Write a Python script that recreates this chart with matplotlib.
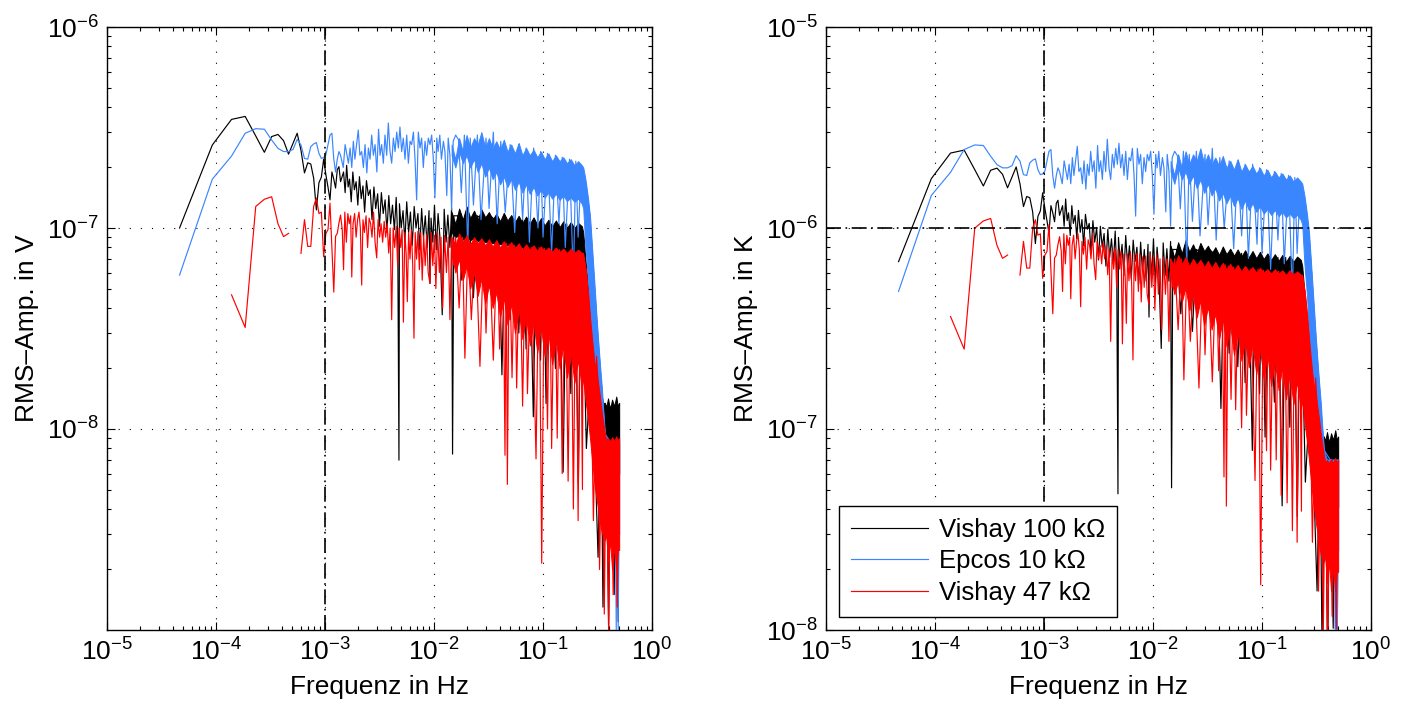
import numpy as np
import matplotlib
matplotlib.use("Agg")
import matplotlib.pyplot as plt
from matplotlib.ticker import LogLocator, NullFormatter, FixedLocator

plt.rcParams['font.family'] = ['Liberation Sans', 'DejaVu Sans']
plt.rcParams['mathtext.fontset'] = 'custom'
plt.rcParams['mathtext.rm'] = 'Liberation Sans'
plt.rcParams['mathtext.it'] = 'Liberation Sans:italic'
plt.rcParams['mathtext.bf'] = 'Liberation Sans:bold'
plt.rcParams['mathtext.default'] = 'regular'

# ---------------- data (left panel, volts) ----------------
DF = 1.0 / 21600.0                       # frequency resolution in Hz
bins_low = list(range(1, 31))            # first FFT bins

black_low = [1.00e-7, 2.59e-7, 3.47e-7, 3.59e-7, 2.87e-7, 2.38e-7, 2.85e-7, 2.92e-7, 2.72e-7, 2.33e-7,
             2.64e-7, 2.96e-7, 2.44e-7, 1.88e-7, 2.11e-7, 2.08e-7, 1.77e-7, 1.23e-7, 1.68e-7, 1.79e-7,
             2.20e-7, 1.84e-7, 1.60e-7, 1.38e-7, 1.90e-7, 1.75e-7, 1.58e-7, 1.95e-7, 2.02e-7, 1.70e-7]
blue_low = [5.83e-8, 1.75e-7, 2.28e-7, 2.96e-7, 3.12e-7, 3.10e-7, 2.74e-7, 2.49e-7, 2.40e-7, 2.40e-7,
            2.46e-7, 2.76e-7, 2.59e-7, 2.22e-7, 2.20e-7, 2.54e-7, 2.62e-7, 2.66e-7, 2.35e-7, 2.22e-7,
            2.24e-7, 2.31e-7, 2.60e-7, 2.90e-7, 2.96e-7, 2.20e-7, 1.90e-7, 2.20e-7, 2.40e-7, 2.30e-7]
red_low = [np.nan, np.nan, 4.65e-8, 3.2e-8, 1.28e-7, 1.39e-7, 1.43e-7, 1.05e-7, 9.06e-8, 9.4e-8,
           np.nan, np.nan, 7.48e-8, 1.1e-7, 8.1e-8, 8.1e-8, 1.28e-7, 1.41e-7, 1.18e-7, 1.2e-7,
           7.2e-8, 9.4e-8, 9.8e-8, 1.33e-7, 7.8e-8, 4.8e-8, 9.1e-8, 9.4e-8, 1.06e-7, 1.16e-7]

black_mid_f = [1.48e-3, 1.53e-3, 1.58e-3, 1.63e-3, 1.68e-3, 1.74e-3, 1.80e-3, 1.86e-3, 1.93e-3, 2.00e-3,
               2.07e-3, 2.15e-3, 2.23e-3, 2.31e-3, 2.40e-3, 2.50e-3, 2.60e-3, 2.70e-3, 2.81e-3, 2.92e-3,
               3.04e-3, 3.16e-3, 3.29e-3, 3.42e-3, 3.56e-3, 3.70e-3, 3.85e-3, 4.00e-3, 4.16e-3, 4.33e-3,
               4.50e-3, 4.65e-3, 4.77e-3, 4.82e-3, 5.00e-3, 5.20e-3, 5.40e-3, 5.62e-3, 5.85e-3, 6.08e-3,
               6.32e-3, 6.58e-3, 6.84e-3, 7.12e-3, 7.40e-3, 7.70e-3, 8.00e-3, 8.32e-3, 8.66e-3, 9.00e-3,
               9.19e-3, 9.40e-3, 9.75e-3, 0.0101, 0.0105, 0.0109, 0.0113, 0.0119, 0.0124, 0.0129,
               0.0134, 0.0140, 0.0145, 0.0148, 0.0152]
black_mid_v = [1.9e-7, 1.5e-7, 2.05e-7, 1.6e-7, 1.75e-7, 1.35e-7, 1.9e-7, 1.55e-7, 1.7e-7, 1.3e-7,
               1.8e-7, 1.4e-7, 1.62e-7, 1.2e-7, 1.72e-7, 1.45e-7, 1.55e-7, 1.1e-7, 1.6e-7, 1.25e-7,
               1.48e-7, 1.02e-7, 1.5e-7, 1.18e-7, 1.38e-7, 9.5e-8, 1.45e-7, 1.05e-7, 1.3e-7, 9.8e-8,
               1.42e-7, 8.8e-8, 7.0e-9, 1.32e-7, 1.0e-7, 1.22e-7, 8.5e-8, 1.35e-7, 9.5e-8, 1.2e-7,
               8.2e-8, 1.28e-7, 1.0e-7, 1.18e-7, 7.8e-8, 1.25e-7, 9.0e-8, 1.15e-7, 8.0e-8, 1.22e-7,
               5.3e-8, 1.12e-7, 8.5e-8, 1.3e-7, 7.8e-8, 1.18e-7, 9.2e-8, 3.7e-8, 1.24e-7, 8.5e-8,
               1.16e-7, 8.0e-8, 1.26e-7, 7.5e-9, 1.15e-7]
black_spk_f = [0.0165, 0.018, 0.0195, 0.021, 0.023, 0.025, 0.028, 0.030, 0.033, 0.036,
               0.039, 0.042, 0.045, 0.050, 0.054, 0.060, 0.065, 0.070, 0.075, 0.0815,
               0.087, 0.095, 0.100, 0.1067, 0.115, 0.130, 0.140, 0.153, 0.165, 0.180,
               0.195, 0.211, 0.225, 0.250, 0.280, 0.320, 0.340, 0.355, 0.380, 0.400,
               0.420, 0.450, 0.470, 0.490, 0.500]
black_spk_v = [1.15e-7, 5.5e-8, 1.2e-7, 1.1e-7, 4.5e-8, 1.15e-7, 1.1e-7, 5.0e-8, 1.15e-7, 1.1e-7,
               1.1e-7, 1.86e-8, 1.1e-7, 3.5e-8, 1.1e-7, 3.0e-8, 1.1e-7, 2.5e-8, 1.05e-7, 1.15e-8,
               1.05e-7, 2.2e-8, 1.05e-7, 1.34e-8, 1.05e-7, 2.0e-8, 1.05e-7, 6.1e-9, 1.05e-7, 1.5e-8,
               1.0e-7, 5.4e-9, 1.0e-7, 8.0e-9, 2.5e-8, 2.3e-9, 1.3e-8, 1.3e-9, 1.3e-8, 1.0e-9,
               1.3e-8, 1.5e-9, 1.3e-8, 1.1e-9, 1.2e-8]

blue_mid_f = [1.47e-3, 1.53e-3, 1.58e-3, 1.64e-3, 1.70e-3, 1.76e-3, 1.82e-3, 1.88e-3, 1.95e-3, 2.02e-3,
              2.09e-3, 2.17e-3, 2.25e-3, 2.33e-3, 2.42e-3, 2.50e-3, 2.59e-3, 2.68e-3, 2.78e-3, 2.88e-3,
              2.99e-3, 3.10e-3, 3.20e-3, 3.31e-3, 3.43e-3, 3.55e-3, 3.68e-3, 3.81e-3, 3.95e-3, 4.09e-3,
              4.24e-3, 4.39e-3, 4.55e-3, 4.71e-3, 4.87e-3, 5.05e-3, 5.23e-3, 5.42e-3, 5.62e-3, 5.82e-3,
              6.03e-3, 6.24e-3, 6.47e-3, 6.70e-3, 6.93e-3, 7.18e-3, 7.44e-3, 7.70e-3, 7.98e-3, 8.27e-3,
              8.56e-3, 8.87e-3, 9.19e-3, 9.52e-3, 9.86e-3, 0.0102, 0.0106, 0.0109, 0.0113, 0.0117,
              0.0122, 0.0126, 0.0131, 0.0135, 0.0140, 0.0145, 0.0150]
blue_mid_v = [2.0e-7, 2.6e-7, 2.36e-7, 2.1e-7, 2.5e-7, 2.0e-7, 2.7e-7, 2.2e-7, 2.6e-7, 3.07e-7,
              2.3e-7, 2.4e-7, 2.0e-7, 2.6e-7, 1.88e-7, 2.5e-7, 2.2e-7, 2.9e-7, 2.3e-7, 2.6e-7,
              1.9e-7, 3.1e-7, 2.3e-7, 2.6e-7, 2.1e-7, 2.9e-7, 2.3e-7, 3.33e-7, 2.4e-7, 2.1e-7,
              2.8e-7, 2.4e-7, 3.0e-7, 2.5e-7, 3.18e-7, 2.4e-7, 2.8e-7, 2.2e-7, 2.9e-7, 2.1e-7,
              2.7e-7, 2.6e-7, 3.0e-7, 2.2e-7, 1.38e-7, 3.0e-7, 2.5e-7, 2.8e-7, 2.0e-7, 2.7e-7,
              2.3e-7, 2.8e-7, 2.6e-7, 2.9e-7, 2.2e-7, 1.41e-7, 2.8e-7, 2.4e-7, 2.9e-7, 2.2e-7,
              2.7e-7, 2.4e-7, 1.45e-7, 2.8e-7, 2.3e-7, 1.23e-7, 2.7e-7]
blue_spk_f = [0.0158, 0.0168, 0.0178, 0.0190, 0.0204, 0.0215, 0.0230, 0.0250, 0.0270, 0.0300,
              0.0320, 0.0350, 0.0380, 0.0410, 0.0450, 0.0500, 0.0550, 0.0600, 0.0650, 0.0700,
              0.0750, 0.0820, 0.0900, 0.0950, 0.1000, 0.1100, 0.1200, 0.1300, 0.1400, 0.1500,
              0.1600, 0.1750, 0.1900, 0.2000, 0.2100, 0.2250, 0.2500, 0.2700, 0.3100, 0.3700,
              0.4200, 0.4550, 0.4700, 0.4800, 0.4900, 0.5000]
blue_spk_v = [2.9e-7, 2.75e-7, 1.5e-7, 2.9e-7, 7.9e-8, 2.8e-7, 1.3e-7, 2.9e-7, 1.1e-7, 2.8e-7,
              1.25e-7, 3.0e-7, 1.05e-7, 2.7e-7, 1.2e-7, 2.6e-7, 9.5e-8, 2.6e-7, 1.1e-7, 2.5e-7,
              8.5e-8, 2.5e-7, 1.0e-7, 2.4e-7, 9.0e-8, 2.35e-7, 7.5e-8, 2.3e-7, 1.05e-7, 2.25e-7,
              8.0e-8, 2.2e-7, 5.5e-8, 2.15e-7, 9.0e-8, 2.05e-7, 1.6e-7, 1.14e-7, 3.6e-8, 9.5e-9,
              8.5e-9, 8.3e-9, 1.0e-9, 8.0e-9, 1.0e-9, 6.0e-9]

red_mid_f = [1.44e-3, 1.48e-3, 1.52e-3, 1.57e-3, 1.62e-3, 1.67e-3, 1.72e-3, 1.76e-3, 1.81e-3, 1.87e-3,
             1.93e-3, 1.99e-3, 2.05e-3, 2.11e-3, 2.17e-3, 2.23e-3, 2.30e-3, 2.38e-3, 2.46e-3, 2.54e-3,
             2.62e-3, 2.70e-3, 2.79e-3, 2.88e-3, 2.98e-3, 3.07e-3, 3.17e-3, 3.27e-3, 3.38e-3, 3.49e-3,
             3.60e-3, 3.72e-3, 3.84e-3, 3.96e-3, 4.09e-3, 4.22e-3, 4.36e-3, 4.50e-3, 4.64e-3, 4.79e-3,
             4.95e-3, 5.10e-3, 5.24e-3, 5.40e-3, 5.55e-3, 5.69e-3, 5.85e-3, 6.02e-3, 6.20e-3, 6.38e-3,
             6.55e-3, 6.72e-3, 6.92e-3, 7.12e-3, 7.34e-3, 7.56e-3, 7.80e-3, 8.04e-3, 8.30e-3, 8.56e-3,
             8.84e-3, 9.18e-3, 9.45e-3, 9.75e-3, 0.0101, 0.0104, 0.0108, 0.0112, 0.0116, 0.0120,
             0.0125, 0.0130, 0.0135, 0.0140, 0.0145, 0.0150]
red_mid_v = [9.8e-8, 6.2e-8, 1.2e-7, 8.5e-8, 1.18e-7, 1.05e-7, 1.15e-7, 5.7e-8, 1.05e-7, 1.18e-7,
             9.0e-8, 1.1e-7, 1.2e-7, 1.0e-7, 5.2e-8, 1.1e-7, 9.5e-8, 1.15e-7, 8.0e-8, 1.12e-7,
             1.05e-7, 9.0e-8, 1.2e-7, 8.5e-8, 7.1e-8, 1.1e-7, 9.0e-8, 1.05e-7, 8.5e-8, 1.08e-7,
             9.0e-8, 1.05e-7, 7.5e-8, 1.0e-7, 3.5e-8, 1.0e-7, 8.0e-8, 1.02e-7, 6.5e-8, 1.0e-7,
             8.0e-8, 9.8e-8, 3.4e-8, 9.5e-8, 7.5e-8, 4.3e-8, 9.5e-8, 7.0e-8, 9.8e-8, 6.5e-8,
             2.83e-8, 9.5e-8, 7.0e-8, 9.6e-8, 6.2e-8, 9.5e-8, 5.5e-8, 9.2e-8, 6.5e-8, 9.3e-8,
             6.0e-8, 5.3e-8, 9.5e-8, 6.5e-8, 9.2e-8, 5.0e-8, 9.5e-8, 6.0e-8, 9.0e-8, 4.0e-8,
             9.2e-8, 6.0e-8, 9.0e-8, 3.5e-8, 9.0e-8, 6.5e-8]
red_spk_f = [0.0158, 0.0170, 0.0182, 0.0192, 0.0205, 0.0220, 0.0240, 0.0264, 0.0285, 0.0300,
             0.0320, 0.0350, 0.0380, 0.0400, 0.0430, 0.0448, 0.0460, 0.0471, 0.0490, 0.0520,
             0.0550, 0.0573, 0.0610, 0.0650, 0.0690, 0.0720, 0.0780, 0.0863, 0.0920, 0.0973,
             0.1030, 0.1100, 0.1150, 0.1200, 0.1280, 0.1350, 0.1420, 0.1500, 0.1600, 0.1700,
             0.1800, 0.1900, 0.2000, 0.2100, 0.2200, 0.2300, 0.2340, 0.2500, 0.2700, 0.2900,
             0.3100, 0.3200, 0.3300, 0.3500, 0.3650, 0.3800, 0.4000, 0.4200, 0.4400, 0.4600,
             0.4800, 0.5000]
red_spk_v = [9.0e-8, 4.0e-8, 9.0e-8, 2.25e-8, 8.8e-8, 3.5e-8, 8.8e-8, 2.05e-8, 8.6e-8, 3.0e-8,
             8.5e-8, 2.2e-8, 8.5e-8, 2.5e-8, 8.4e-8, 7.4e-9, 8.4e-8, 5.3e-9, 8.3e-8, 1.8e-8,
             8.2e-8, 1.6e-8, 8.2e-8, 1.3e-8, 8.1e-8, 1.5e-8, 8.0e-8, 7.1e-9, 8.0e-8, 2.15e-9,
             7.9e-8, 1.0e-8, 7.8e-8, 8.0e-9, 7.8e-8, 9.0e-9, 7.8e-8, 6.0e-9, 7.7e-8, 5.5e-9,
             7.7e-8, 4.0e-9, 7.6e-8, 3.5e-9, 7.6e-8, 5.0e-9, 7.5e-8, 6.0e-8, 3.6e-8, 3.5e-9,
             2.3e-8, 1.7e-8, 2.0e-9, 1.2e-8, 1.2e-9, 8.8e-9, 1.0e-9, 8.8e-9, 1.5e-9, 8.8e-9,
             1.3e-9, 8.8e-9]

# envelope of the dense (saturated) high-frequency region, in units of 1e-8 V
UNIT = 1e-8
band_f = [0.0145, 0.0157, 0.0170, 0.0184, 0.0199, 0.0215, 0.0233, 0.0252, 0.0272, 0.0295,
          0.0319, 0.0345, 0.0373, 0.0404, 0.0437, 0.0472, 0.0511, 0.0553, 0.0598, 0.0647,
          0.0700, 0.0757, 0.0819, 0.0886, 0.0958, 0.1036, 0.1121, 0.1213, 0.1312, 0.1419,
          0.1535, 0.1660, 0.1796, 0.1943, 0.2101, 0.2273, 0.2340, 0.2450, 0.2590, 0.2700,
          0.2820, 0.2950, 0.3100, 0.3200, 0.3330, 0.3470, 0.3550, 0.3700, 0.3800, 0.3950,
          0.4120, 0.4300, 0.4500, 0.4700, 0.4850, 0.5000]
black_hi = [12.0, 10.5, 12.5, 11.0, 12.8, 11.2, 12.2, 11.0, 12.4, 11.3,
            12.0, 11.0, 11.8, 10.8, 11.9, 10.9, 11.6, 10.7, 11.5, 10.6,
            11.4, 10.5, 11.3, 10.4, 11.2, 10.3, 11.0, 10.2, 10.9, 10.1,
            10.8, 10.0, 10.7, 10.0, 10.6, 10.2, 9.5, 7.0, 5.0, 3.8,
            3.0, 2.4, 2.0, 1.8, 1.6, 1.45, 1.35, 1.35, 1.28, 1.42,
            1.25, 1.40, 1.30, 1.45, 1.30, 1.35]
black_lo = [9.5, 9.0, 9.2, 8.8, 9.0, 8.7, 8.9, 8.6, 8.8, 8.5,
            8.6, 8.4, 8.5, 8.3, 8.4, 8.2, 8.3, 8.1, 8.2, 8.0,
            8.1, 7.9, 8.0, 7.8, 7.9, 7.8, 7.8, 7.7, 7.7, 7.6,
            7.6, 7.5, 7.5, 7.4, 7.4, 7.3, 7.0, 5.0, 3.0, 2.0,
            1.5, 1.2, 1.0, 0.9, 0.8, 0.7, 0.6, 0.6, 0.6, 0.6,
            0.6, 0.6, 0.6, 0.6, 0.6, 0.6]
blue_hi = [26, 22, 28, 24, 29, 25, 28, 26, 30, 25,
           28, 25, 27, 24.5, 27.5, 24, 26, 23.5, 26.5, 23,
           25, 23, 24.5, 22.5, 24, 22, 23.5, 21.5, 23, 21.5,
           22.5, 21, 22, 20.5, 21.5, 20.5, 20, 17.5, 14, 11.4,
           8, 5.5, 3.6, 2.8, 2.1, 1.6, 1.3, 0.95, 0.9, 0.85,
           0.85, 0.85, 0.85, 0.85, 0.85, 0.85]
blue_lo = [23, 20, 24, 21, 23, 20, 22, 19, 21, 18,
           20, 17.5, 19, 16.5, 18, 16, 17.5, 15.5, 17, 15,
           16.5, 14.8, 16, 14.5, 15.5, 14.2, 15, 14, 14.8, 13.8,
           14.5, 13.6, 14.2, 13.5, 14, 13.2, 12.5, 8, 5.5, 3.5,
           2.4, 1.7, 1.2, 1.0, 0.8, 0.6, 0.5, 0.4, 0.35, 0.3,
           0.3, 0.3, 0.3, 0.3, 0.3, 0.3]
red_hi = [9.0, 8.2, 9.4, 8.5, 9.2, 8.3, 9.0, 8.4, 8.9, 8.2,
          8.8, 8.1, 8.7, 8.0, 8.6, 8.0, 8.5, 7.9, 8.4, 7.8,
          8.3, 7.8, 8.2, 7.7, 8.1, 7.7, 8.0, 7.6, 8.0, 7.6,
          7.9, 7.5, 7.9, 7.5, 7.8, 7.5, 7.4, 6.3, 4.8, 3.6,
          2.8, 2.2, 1.9, 1.7, 1.45, 1.2, 1.1, 0.95, 0.88, 0.90,
          0.86, 0.91, 0.87, 0.92, 0.88, 0.90]
red_lo = [7.5, 6.0, 7.0, 5.5, 6.5, 5.0, 6.0, 4.6, 5.6, 4.2,
          5.2, 4.0, 4.8, 3.6, 4.5, 3.3, 4.2, 3.0, 3.9, 2.8,
          3.6, 2.6, 3.4, 2.4, 3.2, 2.3, 3.0, 2.1, 2.8, 2.0,
          2.6, 1.8, 2.4, 1.7, 2.2, 1.6, 1.8, 1.4, 1.1, 0.9,
          0.7, 0.55, 0.45, 0.4, 0.35, 0.3, 0.3, 0.28, 0.3, 0.22,
          0.28, 0.2, 0.26, 0.2, 0.25, 0.25]

# conversion factors V -> K (right panel), per sensor
to_kelvin = {"black": 6.8, "blue": 8.3, "red": 7.8}

labels = ["Vishay 100 k\u03a9", "Epcos 10 k\u03a9", "Vishay 47 k\u03a9"]
colors = {"black": "#000000", "blue": "#3a86ff", "red": "#ff0000"}

series = {
    "black": (black_low, black_mid_f, black_mid_v, black_spk_f, black_spk_v, black_hi, black_lo),
    "blue": (blue_low, blue_mid_f, blue_mid_v, blue_spk_f, blue_spk_v, blue_hi, blue_lo),
    "red": (red_low, red_mid_f, red_mid_v, red_spk_f, red_spk_v, red_hi, red_lo),
}

fig = plt.figure(figsize=(14.08, 7.07), dpi=100)
ax1 = fig.add_axes([107 / 1408, 77 / 707, 545 / 1408, 603 / 707])
ax2 = fig.add_axes([826 / 1408, 77 / 707, 545 / 1408, 603 / 707])

FS = 19
grid_ls = (0, (1, 9))
dashdot = (0, (9, 2.7, 1, 2.7))


def draw(ax, in_kelvin):
    handles = []
    for z, (key, lab) in enumerate(zip(["black", "blue", "red"], labels)):
        low, mf, mv, sf, sv, bh, bl = series[key]
        s = to_kelvin[key] if in_kelvin else 1.0
        f = np.concatenate([np.array(bins_low) * DF, mf, sf])
        v = np.concatenate([low, mv, sv]) * s
        h, = ax.plot(f, v, color=colors[key], lw=0.85, zorder=2 + z, label=lab)
        ax.fill_between(band_f, np.array(bl) * UNIT * s, np.array(bh) * UNIT * s,
                        color=colors[key], lw=0.7, zorder=2 + z)
        handles.append(h)
    return handles


def style(ax, ylim, yticks, ylabel):
    ax.set_xscale('log')
    ax.set_yscale('log')
    ax.set_xlim(1e-5, 1)
    ax.set_ylim(*ylim)
    ax.set_xticks([1e-5, 1e-4, 1e-3, 1e-2, 1e-1, 1e0])
    ax.yaxis.set_major_locator(FixedLocator(yticks))
    ax.xaxis.set_minor_locator(LogLocator(base=10, subs=np.arange(2, 10), numticks=20))
    ax.yaxis.set_minor_locator(LogLocator(base=10, subs=np.arange(2, 10), numticks=20))
    ax.xaxis.set_minor_formatter(NullFormatter())
    ax.yaxis.set_minor_formatter(NullFormatter())
    ax.tick_params(which='both', direction='in', top=True, right=True, width=0.8)
    ax.tick_params(which='major', length=5.5, labelsize=FS)
    ax.tick_params(which='minor', length=3)
    ax.tick_params(axis='x', which='major', pad=6)
    ax.tick_params(axis='y', which='major', pad=6)
    ax.grid(True, which='major', linestyle=grid_ls, color='k', lw=0.8)
    for sp in ax.spines.values():
        sp.set_linewidth(1.0)
    ax.set_xlabel("Frequenz in Hz", fontsize=FS)
    ax.set_ylabel(ylabel, fontsize=FS)
    ax.xaxis.set_label_coords(0.5, -0.075)
    ax.yaxis.set_label_coords(-0.125, 0.5)


draw(ax1, False)
style(ax1, (1e-9, 1e-6), [1e-8, 1e-7, 1e-6], "RMS\u2013Amp. in V")
ax1.axvline(1e-3, color='k', lw=1.2, linestyle=dashdot, zorder=6)

hs = draw(ax2, True)
style(ax2, (1e-8, 1e-5), [1e-8, 1e-7, 1e-6, 1e-5], "RMS\u2013Amp. in K")
ax2.axvline(1e-3, color='k', lw=1.2, linestyle=dashdot, zorder=6)
ax2.axhline(1e-6, color='k', lw=1.2, linestyle=dashdot, zorder=6)

leg = ax2.legend(handles=hs, loc='lower left', bbox_to_anchor=(0.024, 0.022),
                 borderaxespad=0, fontsize=18.5, handlelength=3.0, handletextpad=0.45,
                 labelspacing=0.3, borderpad=0.45, fancybox=False, framealpha=1,
                 edgecolor='k')
leg.get_frame().set_linewidth(1.0)
leg.set_zorder(10)

fig.savefig("out.png", dpi=100)
